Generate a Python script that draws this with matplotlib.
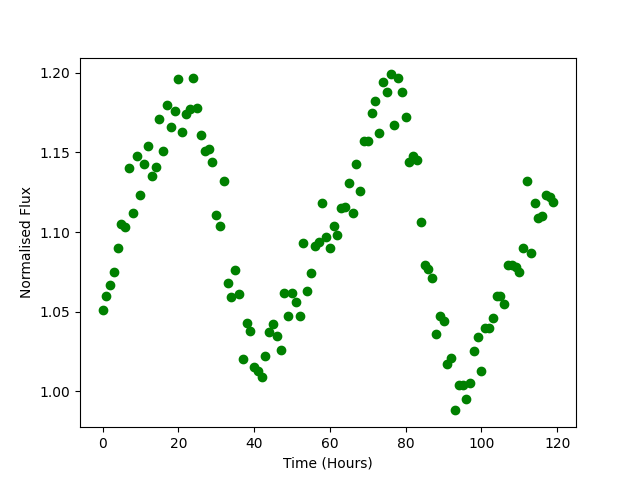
import matplotlib
matplotlib.use("Agg")
import matplotlib.pyplot as plt
import numpy as np

hours = np.arange(120)
flux = [
    1.051, 1.060, 1.067, 1.075, 1.090, 1.105, 1.103, 1.140, 1.112, 1.148,
    1.123, 1.143, 1.154, 1.135, 1.141, 1.171, 1.151, 1.180, 1.166, 1.176,
    1.196, 1.163, 1.174, 1.177, 1.197, 1.178, 1.161, 1.151, 1.152, 1.144,
    1.111, 1.104, 1.132, 1.068, 1.059, 1.076, 1.061, 1.020, 1.043, 1.038,
    1.015, 1.013, 1.009, 1.022, 1.037, 1.042, 1.035, 1.026, 1.062, 1.047,
    1.062, 1.056, 1.047, 1.093, 1.063, 1.074, 1.091, 1.094, 1.118, 1.097,
    1.090, 1.104, 1.098, 1.115, 1.116, 1.131, 1.112, 1.143, 1.126, 1.157,
    1.157, 1.175, 1.182, 1.162, 1.194, 1.188, 1.199, 1.167, 1.197, 1.188,
    1.172, 1.144, 1.148, 1.145, 1.106, 1.079, 1.077, 1.071, 1.036, 1.047,
    1.044, 1.017, 1.021, 0.988, 1.004, 1.004, 0.995, 1.005, 1.025, 1.034,
    1.013, 1.040, 1.040, 1.046, 1.060, 1.060, 1.055, 1.079, 1.079, 1.078,
    1.075, 1.090, 1.132, 1.087, 1.118, 1.109, 1.110, 1.123, 1.122, 1.119,
]

fig, ax = plt.subplots(figsize=(6.4, 4.8), dpi=100)
ax.plot(hours, flux, "o", color="green")
ax.set_xlabel("Time (Hours)")
ax.set_ylabel("Normalised Flux")
fig.savefig("out.png", dpi=100)
